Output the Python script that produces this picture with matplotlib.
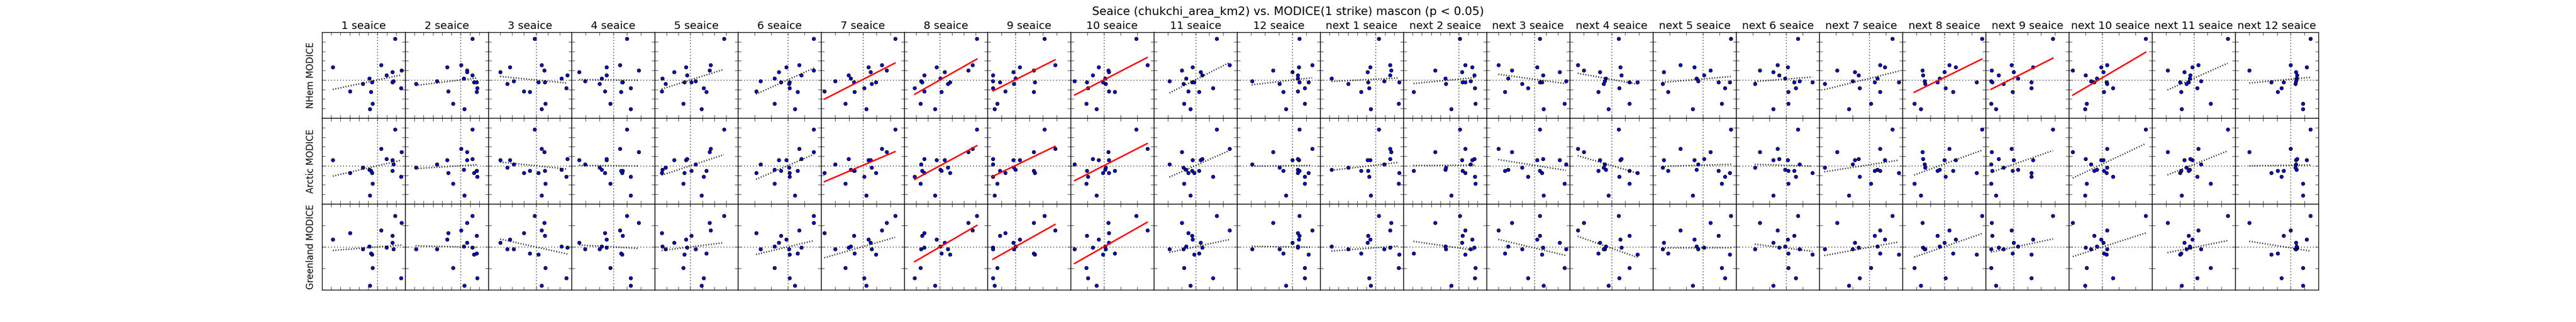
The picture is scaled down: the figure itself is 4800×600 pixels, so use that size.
import numpy as np
import matplotlib
matplotlib.use('Agg')
import matplotlib.pyplot as plt
from matplotlib.ticker import MultipleLocator

plt.style.use('classic')

nan = np.nan

# MODICE anomalies (one value per year, same order in every panel)
nhem = [4.33, 1.34, 1.57, 1.01, 0.85, 0.50, 0.14, -0.12, -0.22, -0.24, -0.41, -0.86, -1.19, -1.25, -2.49, -3.05]
arctic = [3.84, 0.61, 1.81, 1.47, 0.62, 0.71, -0.38, 0.18, -0.52, -0.74, -0.18, -1.12, -0.74, -0.52, -1.86, -3.10]
greenland = [1.45, 0.35, 0.77, 1.12, 0.20, -0.03, 0.02, -0.10, 0.52, -0.35, -0.10, -1.44, 0.64, -0.30, -0.98, -1.81]

row_names = ['NHem MODICE', 'Arctic MODICE', 'Greenland MODICE']
row_ylims = [(-4, 5), (-4, 5), (-2, 2)]

# sea ice anomalies, same year
month_x = [
    [1.89, -4.82, 0.36, 2.57, 1.59, 0.96, -0.87, 1.74, 1.59, -0.60, -1.59, 2.54, -2.99, -0.72, -0.54, -0.81],
    [1.28, -1.45, 0.04, 0.70, 0.70, 1.28, 0.35, -2.56, 1.70, 1.45, -4.86, 1.80, -1.38, 1.74, -0.81, 0.41],
    [-0.10, -2.20, 0.45, 0.68, -3.00, 2.65, 2.15, -1.90, 0.72, 0.22, -2.44, 2.57, -1.04, -0.51, 0.80, 0.45],
    [0.98, -0.47, 0.49, 1.84, -2.44, -0.49, -0.84, -2.02, 0.69, 0.62, -0.98, 1.27, -0.60, 0.56, -0.22, 1.27],
    [2.82, -0.39, 1.68, 1.61, -1.37, -0.28, -2.36, 0.44, 0.05, -0.52, -2.10, 1.11, -2.41, 1.35, -0.62, 0.93],
    [1.54, -0.09, 0.69, 1.56, -0.54, 0.80, -0.80, -1.63, -0.43, 0.09, 0.07, 0.11, -1.91, 0.57, -0.80, 0.43],
    [2.33, 0.42, 1.36, 1.71, 0.58, -1.04, -0.89, -1.98, -0.64, 0.93, 0.64, 0.09, -2.76, -0.60, -1.27, 0.24],
    [3.11, -0.28, 2.75, 2.38, 0.39, -1.35, 0.03, -1.58, -1.50, 0.83, 0.65, -2.12, -1.32, 0.10, -1.63, -0.41],
    [2.09, 0.33, 2.87, 1.31, -0.16, -1.60, 0.02, -1.60, -1.11, 1.40, -0.09, -1.60, -0.71, 1.31, -1.29, -1.51],
    [1.94, -0.33, 2.60, 0.26, 0.30, -0.69, 0.06, -1.76, -1.02, -0.06, 0.09, -0.96, 0.30, 0.63, -1.06, -0.46],
    [1.51, -0.22, 2.44, -0.98, 0.36, 0.49, -0.67, -1.87, -0.27, -0.09, -0.89, 1.24, -0.51, 0.27, -0.84, -0.36],
    [0.49, 0.45, 1.40, -1.39, 0.00, 0.36, 0.38, -2.93, 0.49, 1.13, -0.93, 0.87, 0.36, -0.66, 0.87, -0.48],
]
# sea ice of the following year (last year has no value)
next_x = [
    [0.30, -0.60, 1.57, 1.67, -0.87, 1.57, -4.77, 0.93, -0.83, 2.53, -2.97, -0.73, nan, -1.60, 2.47, -0.53],
    [0.07, 1.43, 0.67, -2.57, 0.33, 1.67, -1.47, 1.27, 0.40, 0.67, -1.43, 1.70, nan, -4.90, 1.77, -0.83],
    [0.47, 0.23, -3.00, -1.89, 2.15, 0.73, -2.18, 2.67, 0.47, 0.67, -1.04, -0.52, nan, -2.46, 2.56, 0.80],
    [0.51, 0.64, -2.42, -2.00, -0.84, 0.71, -0.42, -0.49, 1.29, 1.87, -0.56, 0.56, nan, -0.96, 1.29, -0.20],
    [1.69, -0.52, -1.35, 0.44, -2.35, 0.06, -0.39, -0.30, 0.94, 1.61, -2.43, 1.31, nan, -2.09, 1.13, -0.61],
    [0.71, 0.10, -0.52, -1.58, -0.77, -0.42, -0.06, 0.81, 0.48, 1.58, -1.87, 0.58, nan, 0.13, 0.13, -0.77],
    [1.38, 0.95, 0.63, -1.95, -0.86, -0.63, 0.48, -1.00, 0.32, 1.76, -2.69, -0.59, nan, 0.66, 0.11, -1.24],
    [2.72, 0.84, 0.38, -1.55, 0.00, -1.52, -0.33, -1.41, -0.49, 2.36, -1.39, 0.11, nan, 0.63, -2.15, -1.69],
    [2.85, 1.41, -0.16, -1.58, 0.03, -1.09, 0.33, -1.61, -1.55, 1.30, -0.71, 1.30, nan, -0.08, -1.60, -1.28],
    [2.62, -0.07, 0.29, -1.76, 0.07, -1.00, -0.32, -0.68, -0.48, 0.27, 0.29, 0.63, nan, 0.09, -0.95, -1.04],
    [2.45, -0.08, 0.33, -1.88, -0.68, -0.27, -0.30, 0.52, -0.35, -0.98, -0.52, 0.24, nan, -0.90, 1.22, -0.87],
    [1.40, 1.13, 0.00, -2.98, 0.39, 0.46, 0.41, 0.36, -0.50, -1.40, 0.34, -0.67, nan, -0.93, 0.86, 0.86],
]

col_titles = ['%d seaice' % m for m in range(1, 13)] + ['next %d seaice' % m for m in range(1, 13)]
col_xlims = [(-6, 3), (-6, 3), (-4, 3), (-3, 3), (-3, 4), (-3, 2), (-3, 3), (-3, 4), (-2, 4), (-2, 3), (-3, 3), (-4, 2),
             (-6, 3), (-6, 3), (-4, 3), (-3, 3), (-3, 2), (-3, 2), (-3, 2), (-3, 3), (-2, 4), (-2, 3), (-3, 3), (-4, 2)]

# panels with p < 0.05 (row, column)
significant = [(0, 6), (0, 7), (0, 8), (0, 9), (0, 19), (0, 20), (0, 21),
               (1, 6), (1, 7), (1, 8), (1, 9),
               (2, 7), (2, 8), (2, 9)]

seaice = month_x + next_x
modice = [nhem, arctic, greenland]

fig, axes = plt.subplots(3, 24, figsize=(48, 6))
fig.subplots_adjust(left=0.125, right=0.9, bottom=0.1, top=0.9, wspace=0, hspace=0)

for j in range(24):
    x = np.array(seaice[j])
    for i in range(3):
        y = np.array(modice[i])
        ax = axes[i, j]
        ok = ~np.isnan(x)
        xx, yy = x[ok], y[ok]

        ax.axhline(0, color='k', ls=':', lw=1)
        ax.axvline(0, color='k', ls=':', lw=1)
        ax.scatter(xx, yy, s=20, c='b', edgecolors='k', linewidths=0.8, zorder=3)

        # 线性回归
        slope, icpt = np.polyfit(xx, yy, 1)
        xs = np.array([xx.min(), xx.max()])
        if (i, j) in significant:
            ax.plot(xs, slope * xs + icpt, 'r-', lw=2, zorder=4)
        else:
            ax.plot(xs, slope * xs + icpt, color='k', ls=(0, (1, 2.5)), lw=2, zorder=4)

        ax.set_xlim(col_xlims[j])
        ax.set_ylim(row_ylims[i])
        ax.xaxis.set_major_locator(MultipleLocator(1))
        ax.yaxis.set_major_locator(MultipleLocator(1))
        ax.set_xticklabels([])
        ax.set_yticklabels([])
        if i == 0:
            ax.set_title(col_titles[j], pad=4)
        if j == 0:
            ax.set_ylabel(row_names[i])

fig.suptitle('Seaice (chukchi_area_km2) vs. MODICE(1 strike) mascon (p < 0.05)', fontsize=15.5)
fig.savefig('out.png', dpi=100)
